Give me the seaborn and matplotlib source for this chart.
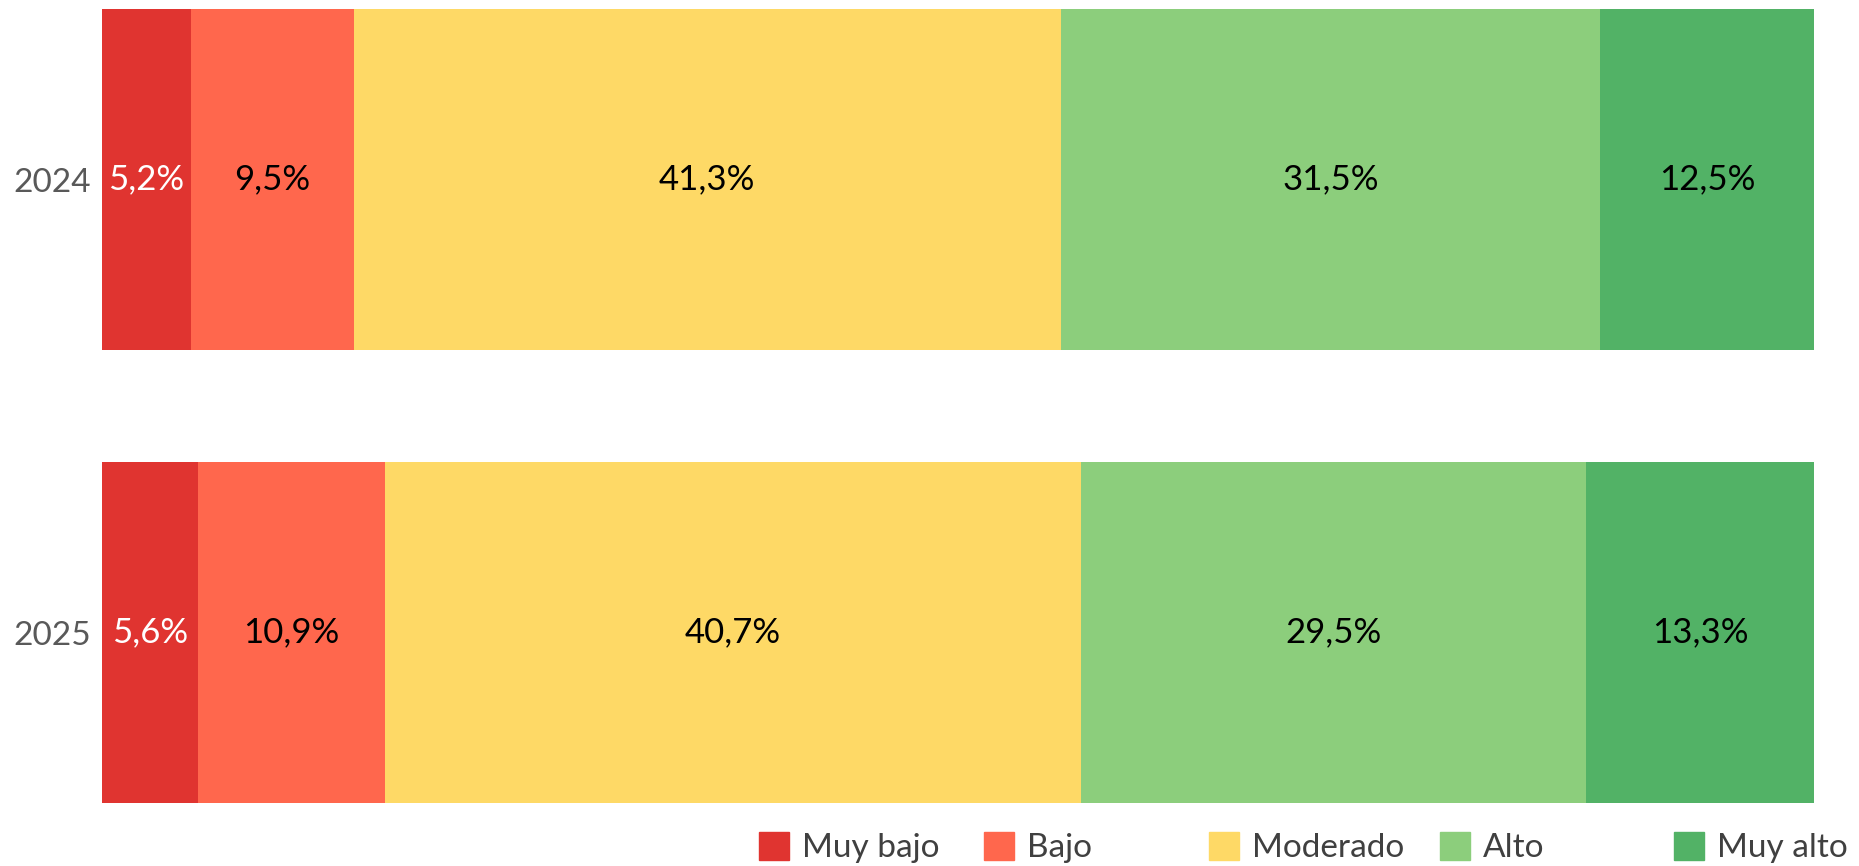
import pandas as pd
import matplotlib.pyplot as plt
import matplotlib.patches as mpatches
import seaborn as sns

# data
years = ['2024', '2025']
categories = ['Muy bajo', 'Bajo', 'Moderado', 'Alto', 'Muy alto']
values_2024 = [5.2, 9.5, 41.3, 31.5, 12.5]
values_2025 = [5.6, 10.9, 40.7, 29.5, 13.3]
colors = ['#E03430', '#FF674D', '#FED966', '#8CCE7C', '#52B266']
label_colors = ['white', 'black', 'black', 'black', 'black']

sns.set_style('white')
plt.rcParams['font.family'] = ['Lato', 'DejaVu Sans']

df = pd.DataFrame({'year': years})
for cat, v24, v25 in zip(categories, values_2024, values_2025):
    df[cat] = [v24, v25]

# cumulative sums for the stacked look
cum = df[categories].cumsum(axis=1)

fig = plt.figure(figsize=(18.59, 8.66), dpi=100)
ax = fig.add_axes([0.0549, 0.0727, 0.9209, 0.9169])

bar_w = 0.753
# draw widest (cumulative) first so the smaller ones sit on top
for cat, col in reversed(list(zip(categories, colors))):
    sns.barplot(x=cum[cat], y=df['year'], order=years, orient='h',
                color=col, width=bar_w, saturation=1, edgecolor='none',
                linewidth=0, ax=ax)

for i, yr in enumerate(years):
    for j, cat in enumerate(categories):
        val = df.loc[i, cat]
        center = cum.loc[i, cat] - val / 2
        ax.text(center, i, f"{val:.1f}%".replace('.', ','), ha='center',
                va='center', fontsize=25, color=label_colors[j])

ax.set_xlim(0, 100)
ax.set_ylim(1 + bar_w / 2, -bar_w / 2)
ax.set_xlabel('')
ax.set_ylabel('')
ax.set_xticks([])
ax.tick_params(axis='y', length=0, pad=8, labelsize=24, labelcolor='#595959')
sns.despine(ax=ax, left=True, bottom=True)

# legend entries in fixed-width slots like the original
slot_x = [0.4083, 0.5293, 0.6503, 0.7746, 0.9005]
for cat, col, sx in zip(categories, colors, slot_x):
    fig.legend(handles=[mpatches.Patch(color=col, label=cat)],
               loc='center left', bbox_to_anchor=(sx, 0.021),
               frameon=False, fontsize=24, handlelength=0.9,
               handleheight=0.9, handletextpad=0.4, borderaxespad=0,
               borderpad=0, labelcolor='#404040')

fig.savefig('out.png', dpi=100)
plt.close(fig)
